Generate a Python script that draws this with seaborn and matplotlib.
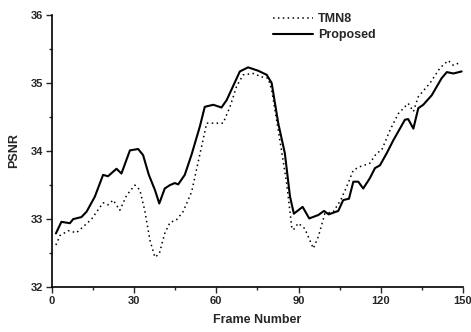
import numpy as np
import pandas as pd
import matplotlib
matplotlib.use('Agg')
import matplotlib.pyplot as plt
from matplotlib.ticker import MultipleLocator
import seaborn as sns

# values
frame_tmn8 = [1.5, 3, 6, 9, 11.5, 14.5, 18.7, 20.5, 22.4, 24.8, 27.3, 30.3, 32.1, 33.9,
              35.8, 37.6, 39.2, 41.2, 43.1, 45.5, 47.9, 51, 54, 56.5, 62.5, 65, 67.4,
              69.8, 73.5, 76.5, 78.9, 80.2, 83.2, 85.7, 87.5, 88.1, 89.9, 92.3, 95.4,
              97.2, 99.6, 102.7, 105.4, 107.5, 110, 112.4, 116, 118.5, 120.3, 123.4,
              126.4, 128.8, 130, 131.9, 133.7, 138, 141.6, 144.6, 146.5, 148.3]
psnr_tmn8 = [32.62, 32.76, 32.83, 32.80, 32.89, 33.00, 33.24, 33.21, 33.28, 33.13, 33.35,
             33.50, 33.43, 33.13, 32.69, 32.44, 32.49, 32.79, 32.95, 32.99, 33.11, 33.40,
             33.95, 34.41, 34.41, 34.65, 34.95, 35.12, 35.14, 35.09, 35.07, 34.90, 34.16,
             33.52, 32.89, 32.84, 32.94, 32.86, 32.57, 32.74, 33.08, 33.11, 33.28, 33.47,
             33.72, 33.77, 33.82, 33.97, 34.01, 34.31, 34.55, 34.65, 34.70, 34.58, 34.80,
             35.00, 35.22, 35.33, 35.26, 35.29]

frame_prop = [1.5, 3.5, 6.6, 7.8, 10.8, 12.7, 15.7, 18.7, 20.5, 23.6, 25.4, 28.5, 31.5,
              33.3, 35.4, 37.6, 39.2, 41.2, 43.1, 44.9, 46.1, 48.5, 51, 54, 55.8, 58.9,
              61.9, 63.8, 68.6, 71.6, 75.3, 78.4, 80.2, 82.6, 85, 86.9, 88.3, 91.5, 93.9,
              97.2, 99.3, 101, 104.5, 106.3, 108.4, 110, 111.8, 113.6, 116, 117.9, 119.7,
              122.2, 124.6, 127, 128.8, 130, 131.9, 133.7, 135.5, 138.6, 142.2, 144.1,
              146.5, 149.5]
psnr_prop = [32.79, 32.96, 32.94, 33.00, 33.03, 33.11, 33.33, 33.65, 33.63, 33.74, 33.67,
             34.01, 34.03, 33.94, 33.65, 33.43, 33.23, 33.45, 33.50, 33.53, 33.51, 33.65,
             33.95, 34.36, 34.65, 34.68, 34.64, 34.75, 35.17, 35.23, 35.18, 35.12, 35.00,
             34.41, 33.97, 33.33, 33.08, 33.18, 33.01, 33.06, 33.12, 33.07, 33.12, 33.28,
             33.30, 33.55, 33.55, 33.45, 33.60, 33.75, 33.79, 33.97, 34.16, 34.33, 34.46,
             34.47, 34.33, 34.63, 34.68, 34.82, 35.07, 35.16, 35.14, 35.17]

df = pd.concat([
    pd.DataFrame({'frame': frame_tmn8, 'psnr': psnr_tmn8, 'method': 'TMN8'}),
    pd.DataFrame({'frame': frame_prop, 'psnr': psnr_prop, 'method': 'Proposed'}),
])

sns.set_style('white')
plt.rcParams['font.family'] = ['Liberation Sans', 'DejaVu Sans']
plt.rcParams['font.weight'] = 'bold'

fig, ax = plt.subplots(figsize=(4.71, 3.32), dpi=100)
fig.subplots_adjust(left=0.110, right=0.983, top=0.955, bottom=0.135)

sns.lineplot(data=df, x='frame', y='psnr', hue='method', style='method',
             palette={'TMN8': 'black', 'Proposed': 'black'},
             dashes={'TMN8': (1, 2.2), 'Proposed': ''},
             sort=False, estimator=None, ax=ax)
for line in ax.lines:
    if line.get_linestyle() != '-':
        line.set_linewidth(1.1)
    else:
        line.set_linewidth(1.5)

ax.set_xlim(0, 150)
ax.set_ylim(32, 36)
ax.xaxis.set_major_locator(MultipleLocator(30))
ax.xaxis.set_minor_locator(MultipleLocator(15))
ax.yaxis.set_major_locator(MultipleLocator(1))
ax.yaxis.set_minor_locator(MultipleLocator(0.5))
ax.tick_params(which='major', direction='out', length=4, width=1, labelsize=8,
               bottom=True, left=True, pad=2)
ax.tick_params(which='minor', direction='out', length=2, width=1, bottom=True, left=True)
for lab in ax.get_xticklabels() + ax.get_yticklabels():
    lab.set_fontweight('bold')

sns.despine(ax=ax)
ax.spines['left'].set_linewidth(1.2)
ax.spines['bottom'].set_linewidth(1.2)
ax.spines['left'].set_color('black')
ax.spines['bottom'].set_color('black')

ax.set_xlabel('Frame Number', fontsize=9, fontweight='bold', labelpad=6)
ax.set_ylabel('PSNR', fontsize=9, fontweight='bold', labelpad=8)

leg = ax.legend(title=None, frameon=False, loc='upper right',
                bbox_to_anchor=(0.80, 1.025), fontsize=9, handlelength=3.2,
                handletextpad=0.4, labelspacing=0.3, borderaxespad=0)
for t in leg.get_texts():
    t.set_fontweight('bold')
for h in leg.get_lines():
    h.set_color('black')

fig.savefig('out.png', dpi=100)
